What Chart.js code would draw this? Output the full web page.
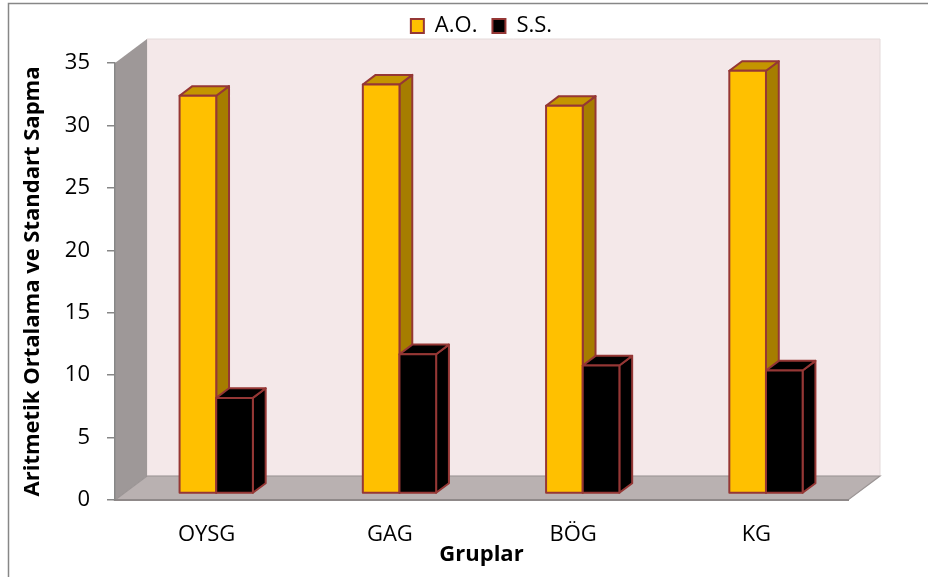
<!DOCTYPE html>
<html>
<head>
<meta charset="utf-8">
<script src="https://cdn.jsdelivr.net/npm/chart.js@4.4.1/dist/chart.umd.min.js"></script>
<style>
  html, body { margin: 0; padding: 0; background: #ffffff; }
  canvas { display: block; }
</style>
</head>
<body>
<canvas id="chart" width="928" height="577"></canvas>
<script>
const categories = ['OYSG', 'GAG', 'BÖG', 'KG'];
const seriesNames = ['A.O.', 'S.S.'];
const aoValues = [31.8, 32.7, 31.0, 33.8];
const ssValues = [7.6, 11.1, 10.2, 9.8];
const yMin = 0, yMax = 35, yStep = 5;
const yTitle = 'Aritmetik Ortalama ve Standart Sapma';
const xTitle = 'Gruplar';

// Depth of the box behind the axes, and where the columns sit inside it
const WALL_DX = 32, WALL_DY = -24;
const FRONT = 0.3, DEPTH = 0.4;

const faceColors = [
  { front: '#FFC000', side: '#A67D00', top: '#C49500' },
  { front: '#000000', side: '#000000', top: '#000000' }
];
const edgeColor = '#953735';
const FONT = "'Open Sans', sans-serif";

function poly(ctx, pts, fill, stroke, lw) {
  ctx.beginPath();
  ctx.moveTo(pts[0][0], pts[0][1]);
  for (let i = 1; i < pts.length; i++) ctx.lineTo(pts[i][0], pts[i][1]);
  ctx.closePath();
  if (fill) { ctx.fillStyle = fill; ctx.fill(); }
  if (stroke) { ctx.strokeStyle = stroke; ctx.lineWidth = lw; ctx.stroke(); }
}

const box3d = {
  id: 'box3d',
  beforeDraw(chart) {
    const { ctx, chartArea: a } = chart;
    const L = a.left, R = a.right, T = a.top, B = a.bottom;
    ctx.save();
    // outer frame
    ctx.strokeStyle = '#878787';
    ctx.lineWidth = 1.5;
    ctx.strokeRect(8.5, 3.5, 1000, 1000);
    // back wall
    poly(ctx, [[L + WALL_DX, T + WALL_DY], [R + WALL_DX, T + WALL_DY], [R + WALL_DX, B + WALL_DY], [L + WALL_DX, B + WALL_DY]], '#F4E8E9', '#E4DADA', 1);
    // side wall
    poly(ctx, [[L, T], [L + WALL_DX, T + WALL_DY], [L + WALL_DX, B + WALL_DY], [L, B]], '#9E9898', null);
    // floor
    poly(ctx, [[L, B], [L + WALL_DX, B + WALL_DY], [R + WALL_DX, B + WALL_DY], [R, B]], '#B9B1B1', '#9A9494', 1.2);
    ctx.restore();
  },
  beforeDatasetsDraw(chart) {
    const { ctx } = chart;
    const y = chart.scales.y;
    const fx = WALL_DX * FRONT, fy = WALL_DY * FRONT;
    const dx = WALL_DX * DEPTH, dy = WALL_DY * DEPTH;
    const metas = chart.data.datasets.map((d, i) => chart.getDatasetMeta(i));
    ctx.save();
    ctx.lineJoin = 'round';
    for (let j = 0; j < categories.length; j++) {
      metas.forEach((meta, i) => {
        const el = meta.data[j];
        const v = chart.data.datasets[i].data[j];
        const x0 = el.x - el.width / 2 + fx, x1 = el.x + el.width / 2 + fx;
        const yt = y.getPixelForValue(v) + fy, yb = y.getPixelForValue(0) + fy;
        const c = faceColors[i];
        poly(ctx, [[x1, yt], [x1 + dx, yt + dy], [x1 + dx, yb + dy], [x1, yb]], c.side, edgeColor, 2);
        poly(ctx, [[x0, yt], [x0 + dx, yt + dy], [x1 + dx, yt + dy], [x1, yt]], c.top, edgeColor, 2);
        poly(ctx, [[x0, yt], [x1, yt], [x1, yb], [x0, yb]], c.front, edgeColor, 2);
      });
    }
    ctx.restore();
    return false;
  }
};

new Chart(document.getElementById('chart'), {
  type: 'bar',
  data: {
    labels: categories,
    datasets: [
      { label: seriesNames[0], data: aoValues, backgroundColor: faceColors[0].front, borderColor: edgeColor, borderWidth: 2, categoryPercentage: 0.4, barPercentage: 1.0 },
      { label: seriesNames[1], data: ssValues, backgroundColor: faceColors[1].front, borderColor: edgeColor, borderWidth: 2, categoryPercentage: 0.4, barPercentage: 1.0 }
    ]
  },
  options: {
    responsive: false,
    animation: false,
    layout: { padding: { left: 8, right: 80, top: 0, bottom: 0 } },
    plugins: {
      legend: {
        position: 'top',
        fullSize: false,
        labels: { font: { family: FONT, size: 22 }, color: '#000', boxWidth: 13, boxHeight: 14, padding: 15 }
      },
      // spacer between the legend and the plot box
      title: { display: true, text: '', weight: 500, padding: { top: 3, bottom: 3 }, font: { size: 10, lineHeight: 1 } },
      tooltip: { enabled: false }
    },
    scales: {
      x: {
        grid: { display: false, drawTicks: false },
        border: { display: true, color: '#8F8989', width: 2 },
        ticks: { font: { family: FONT, size: 22 }, color: '#000', padding: 22 },
        title: { display: true, text: xTitle, color: '#000', font: { family: FONT, size: 22, weight: 'bold' }, padding: { top: 0, bottom: 9 } },
        afterFit(s) { s.height = 77; }
      },
      y: {
        min: yMin,
        max: yMax,
        ticks: { stepSize: yStep, font: { family: FONT, size: 22 }, color: '#000', padding: 17 },
        grid: { drawOnChartArea: false, drawTicks: true, tickLength: 8, color: '#878787', lineWidth: 1.5 },
        border: { display: true, color: '#878787', width: 1.5 },
        title: { display: true, text: yTitle, color: '#000', font: { family: FONT, size: 22, weight: 'bold' }, padding: { top: 12, bottom: 0 } },
        afterFit(s) { s.width = 107; }
      }
    }
  },
  plugins: [box3d]
});
</script>
</body>
</html>
